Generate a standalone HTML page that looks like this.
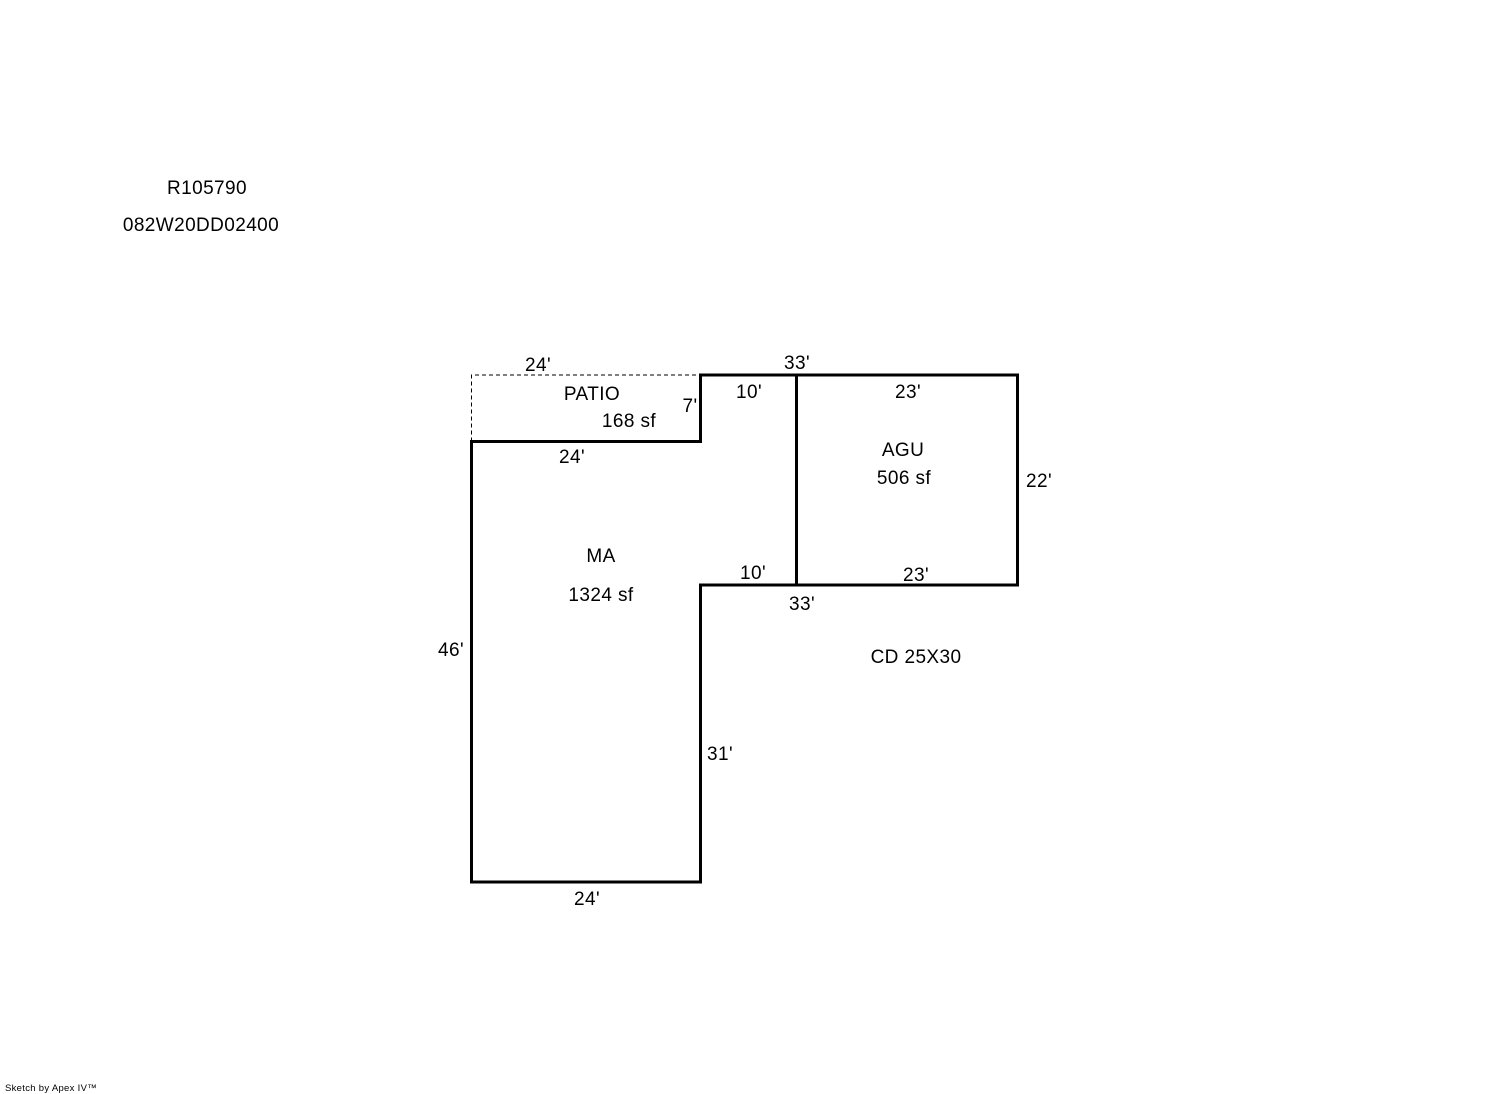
<!DOCTYPE html>
<html><head><style>
html,body{margin:0;padding:0;background:#fff;}
svg{display:block;}
text{font-family:"Liberation Sans",Arial,sans-serif;font-size:19px;letter-spacing:0.4px;fill:#000;}
</style></head><body>
<svg width="1492" height="1094" viewBox="0 0 1492 1094" xmlns="http://www.w3.org/2000/svg">
<path d="M471.5,441.5 L471.5,375 L700.5,375" fill="none" stroke="#000" stroke-width="1" stroke-dasharray="4,3"/>
<g fill="none" stroke="#000" stroke-width="3" stroke-linecap="square">
<polyline points="471.5,441.5 700.5,441.5 700.5,375 1017.5,375 1017.5,585 700.5,585 700.5,882 471.5,882 471.5,441.5"/>
<line x1="796.5" y1="375" x2="796.5" y2="585"/>
</g>
<g text-anchor="middle">
<text x="207" y="194">R105790</text>
<text x="201" y="231">082W20DD02400</text>
<text x="538" y="371">24'</text>
<text x="797" y="369">33'</text>
<text x="592" y="400">PATIO</text>
<text x="629" y="427">168 sf</text>
<text x="690" y="412">7'</text>
<text x="749" y="398">10'</text>
<text x="908" y="398">23'</text>
<text x="903" y="456">AGU</text>
<text x="904" y="484">506 sf</text>
<text x="1039" y="487">22'</text>
<text x="572" y="463">24'</text>
<text x="601" y="562">MA</text>
<text x="601" y="601">1324 sf</text>
<text x="753" y="579">10'</text>
<text x="916" y="581">23'</text>
<text x="802" y="610">33'</text>
<text x="916" y="663">CD 25X30</text>
<text x="451" y="656">46'</text>
<text x="720" y="760">31'</text>
<text x="587" y="905">24'</text>
</g>
<text x="5" y="1091" style="font-size:9.5px;letter-spacing:0.3px">Sketch by Apex IV™</text>
</svg>
</body></html>
